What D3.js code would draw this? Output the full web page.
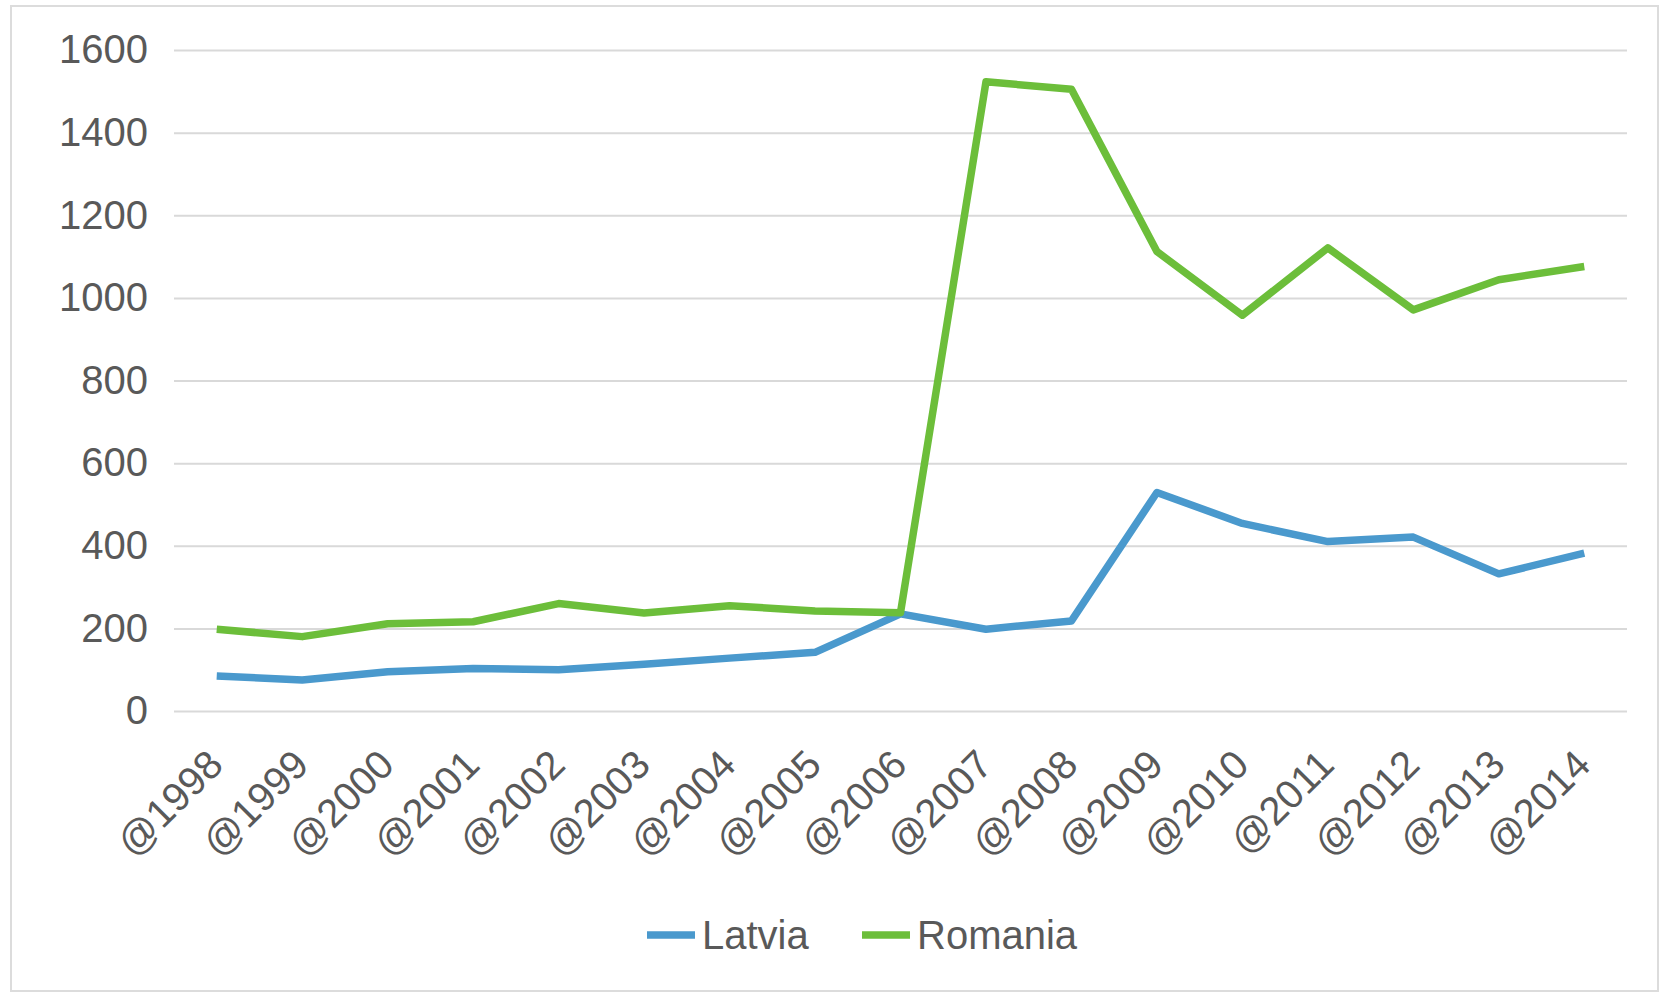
<!DOCTYPE html>
<html>
<head>
<meta charset="utf-8">
<script src="https://cdn.jsdelivr.net/npm/d3@7/dist/d3.min.js"></script>
<style>
  html, body { margin: 0; padding: 0; background: #ffffff; }
  svg { display: block; }
  text { font-family: "Liberation Sans", Arial, sans-serif; fill: #595959; }
</style>
</head>
<body>
<svg id="chart" width="1671" height="998"></svg>
<script>
// Yearly values per country
const years = ["@1998","@1999","@2000","@2001","@2002","@2003","@2004","@2005","@2006",
               "@2007","@2008","@2009","@2010","@2011","@2012","@2013","@2014"];
const latvia = [85, 75, 95, 103, 100, 113, 128, 142, 235, 198, 218, 529, 454, 410, 421, 332, 382];
const romania = [198, 180, 211, 216, 260, 237, 255, 242, 238, 1523, 1505, 1112, 958, 1121, 971, 1044, 1076];
const yTicks = [0, 200, 400, 600, 800, 1000, 1200, 1400, 1600];
const seriesNames = ["Latvia", "Romania"];
const seriesColors = ["#4a99cd", "#6cbe3a"];

const series = [
  { name: seriesNames[0], values: latvia, color: seriesColors[0] },
  { name: seriesNames[1], values: romania, color: seriesColors[1] }
];

const svg = d3.select("#chart");
const plot = { left: 174, right: 1627, top: 50, bottom: 711 };

// Chart frame
svg.append("rect")
  .attr("x", 11).attr("y", 6)
  .attr("width", 1647).attr("height", 985)
  .attr("fill", "#ffffff")
  .attr("stroke", "#dcdcdc").attr("stroke-width", 2);

const x = d3.scalePoint().domain(years).range([plot.left, plot.right]).padding(0.5);
const y = d3.scaleLinear().domain([0, 1600]).range([plot.bottom, plot.top]);

// Horizontal gridlines with value labels
const yAxis = d3.axisLeft(y).tickValues(yTicks)
  .tickSize(-(plot.right - plot.left)).tickPadding(26).tickFormat(d3.format("d"));
const gy = svg.append("g").attr("transform", `translate(${plot.left},0)`).call(yAxis);
gy.select(".domain").remove();
gy.selectAll(".tick line").attr("stroke", "#d9d9d9").attr("stroke-width", 2);
gy.selectAll(".tick text").style("font-size", "40px").attr("fill", "#595959");

// Category labels, rotated
const xAxis = d3.axisBottom(x).tickSize(0).tickPadding(0);
const gx = svg.append("g").attr("transform", `translate(0,${plot.bottom})`).call(xAxis);
gx.select(".domain").remove();
gx.selectAll(".tick text")
  .style("font-size", "40px")
  .attr("fill", "#595959")
  .attr("text-anchor", "end")
  .attr("dy", 0)
  .attr("transform", "translate(8,56) rotate(-45)");

// Series lines
const line = d3.line()
  .x((d, i) => x(years[i]))
  .y(d => y(d));

svg.selectAll(".series")
  .data(series)
  .join("path")
  .attr("class", "series")
  .attr("d", d => line(d.values))
  .attr("fill", "none")
  .attr("stroke", d => d.color)
  .attr("stroke-width", 7.5)
  .attr("stroke-linejoin", "round")
  .attr("stroke-linecap", "butt");

// Legend
const legendItems = [
  { name: seriesNames[0], color: seriesColors[0], x: 647 },
  { name: seriesNames[1], color: seriesColors[1], x: 862 }
];
const lg = svg.append("g").selectAll("g").data(legendItems).join("g")
  .attr("transform", d => `translate(${d.x},935)`);
lg.append("line")
  .attr("x1", 0).attr("x2", 48).attr("y1", 0).attr("y2", 0)
  .attr("stroke", d => d.color).attr("stroke-width", 7.5);
lg.append("text")
  .attr("x", 55).attr("y", 0).attr("dy", "0.36em")
  .style("font-size", "40px")
  .attr("fill", "#595959")
  .text(d => d.name);
</script>
</body>
</html>
